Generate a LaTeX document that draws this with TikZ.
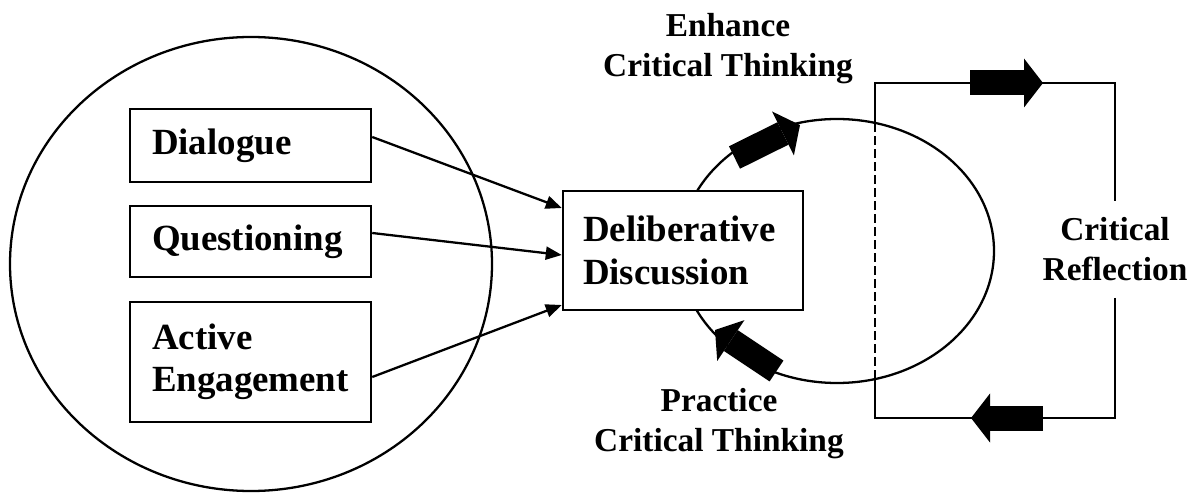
\documentclass[tikz,border=0pt]{standalone}
\usepackage{fontspec}
\setmainfont{Liberation Serif}
\usetikzlibrary{shapes,arrows.meta}
\tikzstyle{factor} = [rectangle, draw=black, line width=1.4pt, minimum width=4.82cm, text width=3.94cm, inner xsep=0.44cm, inner ysep=0pt, align=left, font=\fontsize{21}{24}\selectfont\bfseries]
\tikzstyle{core} = [rectangle, draw=black, line width=1.4pt, fill=white, text width=4cm, inner xsep=0.4cm, inner ysep=0pt, minimum height=2.38cm, align=left, font=\fontsize{21}{24}\selectfont\bfseries]
\tikzstyle{note} = [align=center, font=\fontsize{19}{22.7}\selectfont\bfseries]
\tikzstyle{ring} = [ellipse, draw=black, line width=1.3pt, inner sep=0pt]
\tikzstyle{frame} = [line width=1.3pt]
\tikzstyle{arrow} = [line width=1.3pt, -{Triangle[length=0.32cm,width=0.26cm]}]
\tikzstyle{bigarrow} = [line width=0.5cm, -{Triangle[length=0.38cm,width=0.98cm,line width=0pt]}]

\begin{document}
\begin{tikzpicture}
\useasboundingbox (0,0) rectangle (24.04,9.84);

% left group
\node (group) [ring, minimum width=9.64cm, minimum height=9.08cm] at (5.02,4.56) {};
\node (dialogue) [factor, minimum height=1.46cm] at (5.01,6.93) {Dialogue};
\node (questioning) [factor, minimum height=1.42cm] at (5.01,5.01) {Questioning};
\node (active) [factor, minimum height=2.4cm] at (5.01,2.6) {Active\\Engagement};

% thinking loop
\node (loop) [ring, minimum width=6.28cm, minimum height=5.28cm] at (16.74,4.82) {};
\node (delib) [core] at (13.66,4.83) {Deliberative\\Discussion};
\node (enhance) [note] at (14.56,8.86) {Enhance\\Critical Thinking};
\node (practice) [note] at (14.38,1.36) {Practice\\Critical Thinking};

% reflection frame
\coordinate (topleft) at (17.5,8.18);
\coordinate (topright) at (22.3,8.18);
\coordinate (botright) at (22.3,1.48);
\coordinate (botleft) at (17.5,1.48);
\coordinate (cutup) at (17.5,7.38);
\coordinate (cutdown) at (17.5,2.26);
\node (reflect) [note, minimum height=1.92cm, inner sep=0pt] at (22.3,4.85) {Critical\\Reflection};

\draw [frame] (cutup) -- (topleft) -- (topright) -- (reflect.north);
\draw [frame] (reflect.south) -- (botright) -- (botleft) -- (cutdown);
\draw [frame, dash pattern=on 0.18cm off 0.08cm] (cutdown) -- (cutup);

% inputs
\draw [arrow] ([yshift=0.17cm]dialogue.east) -- ([yshift=0.85cm]delib.west);
\draw [arrow] ([yshift=0.17cm]questioning.east) -- ([yshift=-0.09cm]delib.west);
\draw [arrow] ([yshift=-0.3cm]active.east) -- ([yshift=-1.09cm]delib.west);

% block arrows
\coordinate (upfrom) at (14.69,6.69);
\coordinate (upto) at (16.0,7.34);
\coordinate (downfrom) at (15.53,2.42);
\coordinate (downto) at (14.3,3.24);
\coordinate (outfrom) at (19.4,8.18);
\coordinate (outto) at (20.86,8.18);
\coordinate (backfrom) at (20.86,1.48);
\coordinate (backto) at (19.42,1.48);
\draw [bigarrow] (upfrom) -- (upto);
\draw [bigarrow] (downfrom) -- (downto);
\draw [bigarrow] (outfrom) -- (outto);
\draw [bigarrow] (backfrom) -- (backto);

\end{tikzpicture}
\end{document}
